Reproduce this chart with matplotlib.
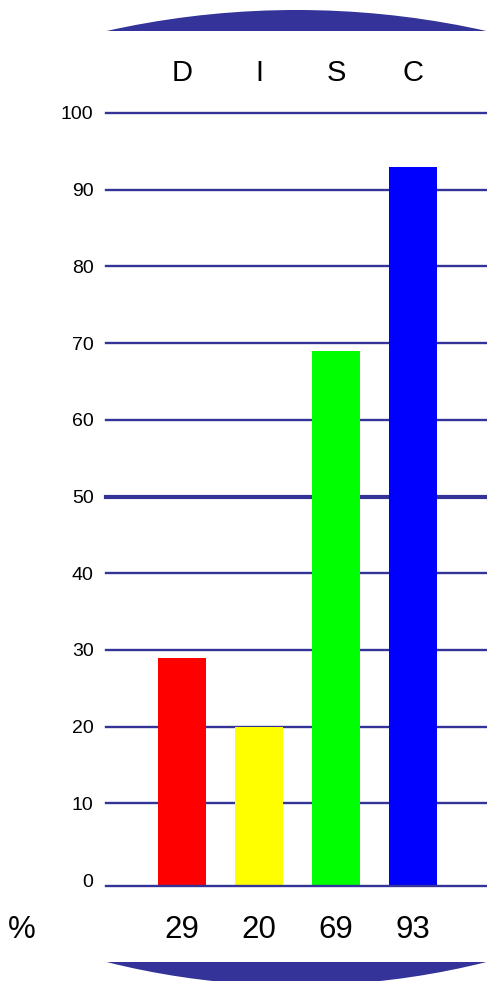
import matplotlib
matplotlib.use("Agg")
import matplotlib.pyplot as plt
from matplotlib.patches import Circle, Rectangle
from matplotlib.transforms import blended_transform_factory

plt.rcParams['font.family'] = ['Liberation Sans', 'DejaVu Sans']

categories = ["D", "I", "S", "C"]
values = [29, 20, 69, 93]
bar_colors = ["#ff0000", "#ffff00", "#00ff00", "#0000ff"]
yticks = [0, 10, 20, 30, 40, 50, 60, 70, 80, 90, 100]
value_labels = ["29", "20", "69", "93"]

NAVY = "#333399"
W, H = 487, 981
BASE = -0.78

fig = plt.figure(figsize=(W / 100, H / 100), dpi=100)

# main axes in pixel geometry
left_px, right_px, top_px, bot_px = 106, 487, 113, 886
ax = fig.add_axes([left_px / W, 1 - bot_px / H, (right_px - left_px) / W, (bot_px - top_px) / H])
ax.set_ylim(BASE, 100)
ax.set_xlim(-0.987, 3.961)
for s in ax.spines.values():
    s.set_visible(False)
ax.set_xticks([])
ax.set_yticks(yticks)
ax.set_yticklabels([str(t) for t in yticks])
ax.tick_params(axis='y', length=0, pad=9, labelsize=14)

for t in yticks[1:]:
    lw = 3.0 if t == 50 else 1.7
    ax.axhline(t, color=NAVY, lw=lw, zorder=1, clip_on=False)
ax.axhline(BASE, color=NAVY, lw=1.7, zorder=3, clip_on=False)

x = list(range(len(categories)))
ax.bar(x, [v - BASE for v in values], bottom=BASE, width=0.623, color=bar_colors, zorder=2)

tr = blended_transform_factory(ax.transData, fig.transFigure)
for xi, c in zip(x, categories):
    ax.text(xi, 1 - 73 / H, c, transform=tr, ha='center', va='center', fontsize=21)
for xi, v in zip(x, value_labels):
    ax.text(xi, 1 - 929.5 / H, v, transform=tr, ha='center', va='center', fontsize=22.5)
fig.text(22 / W, 1 - 929.5 / H, "%", ha='center', va='center', fontsize=22.5)

# decorative caps (circle segments)
ov = fig.add_axes([0, 0, 1, 1], zorder=-1)
ov.set_xlim(0, W)
ov.set_ylim(H, 0)
ov.axis('off')
top = Circle((296.5, 880), 870, color=NAVY, lw=0)
ov.add_patch(top)
top.set_clip_path(Rectangle((0, 0), W, 31, transform=ov.transData))
bot = Circle((296.5, 205.5), 780, color=NAVY, lw=0)
ov.add_patch(bot)
bot.set_clip_path(Rectangle((0, 962), W, 40, transform=ov.transData))

fig.savefig("out.png", dpi=100)
